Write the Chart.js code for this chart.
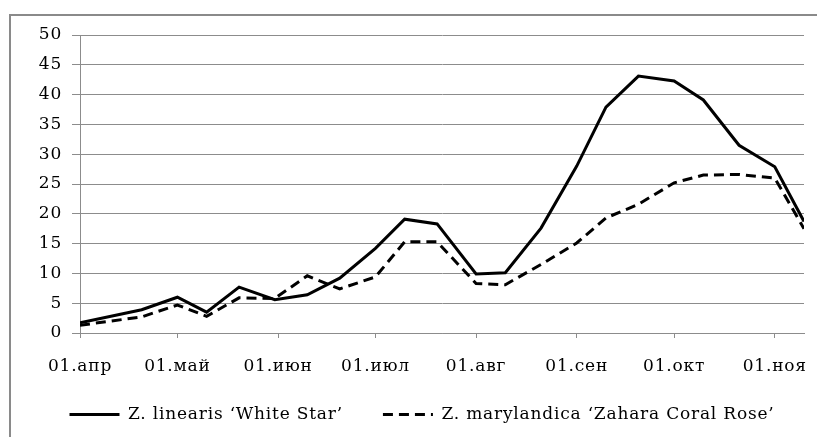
<!DOCTYPE html>
<html>
<head>
<meta charset="utf-8">
<script src="https://cdn.jsdelivr.net/npm/chart.js@4"></script>
<style>
  html, body { margin: 0; padding: 0; background: #fff; overflow: hidden; }
  #frame { position: absolute; left: 9px; top: 14px; width: 900px; height: 500px; border: 2px solid #8a8a8a; box-sizing: border-box; }
  #wrap { position: absolute; left: 0; top: 0; width: 817px; height: 437px; }
</style>
</head>
<body>
<div id="frame"></div>
<div id="wrap"><canvas id="c" width="817" height="437"></canvas></div>
<script>
// ---- data ----
const dates = ['04-01','04-20','05-01','05-10','05-20','05-31','06-10','06-20','07-01','07-10','07-20',
               '08-01','08-10','08-21','09-01','09-10','09-20','10-01','10-10','10-21','11-01','11-10'];
const whiteStar = [1.7, 3.9, 6.0, 3.5, 7.7, 5.6, 6.4, 9.2, 14.2, 19.1, 18.3,
                   9.9, 10.1, 17.6, 28.0, 37.9, 43.1, 42.3, 39.1, 31.5, 27.9, 18.7];
const coralRose = [1.3, 2.7, 4.7, 2.8, 5.9, 5.8, 9.6, 7.4, 9.4, 15.3, 15.3,
                   8.3, 8.1, 11.5, 15.1, 19.3, 21.6, 25.2, 26.5, 26.6, 26.0, 17.5];
const tickDates = ['04-01','05-01','06-01','07-01','08-01','09-01','10-01','11-01'];
const tickLabels = ['01.апр','01.май','01.июн','01.июл','01.авг','01.сен','01.окт','01.ноя'];
const seriesNames = ['Z. linearis \u2018White Star\u2019', 'Z. marylandica \u2018Zahara Coral Rose\u2019'];
const axisEnd = '11-10';

function dayOffset(md) {
  const [m, d] = md.split('-').map(Number);
  return Math.round((Date.UTC(2021, m - 1, d) - Date.UTC(2021, 3, 1)) / 86400000);
}
const tickValues = tickDates.map(dayOffset);

const FONT = { family: "'DejaVu Serif'", size: 17 };
const GRID = '#8c8c8c';
const LS = '0.8px';

const spacing = {
  id: 'spacing',
  beforeUpdate(chart) { chart.ctx.letterSpacing = LS; },
  beforeLayout(chart) { chart.ctx.letterSpacing = LS; },
  afterLayout(chart) {
    const lg = chart.legend;
    if (lg) { lg.top -= 9; lg.bottom -= 9; lg.left += 20; lg.right += 20; }
  },
  beforeDraw(chart) { chart.ctx.letterSpacing = LS; }
};

new Chart(document.getElementById('c'), {
  type: 'line',
  data: {
    datasets: [
      { label: seriesNames[0], data: dates.map((d, i) => ({ x: dayOffset(d), y: whiteStar[i] })),
        borderColor: '#000', backgroundColor: '#000', borderWidth: 3, pointRadius: 0, tension: 0 },
      { label: seriesNames[1], data: dates.map((d, i) => ({ x: dayOffset(d), y: coralRose[i] })),
        borderColor: '#000', backgroundColor: '#000', borderWidth: 3, borderDash: [10, 6], pointRadius: 0, tension: 0 }
    ]
  },
  options: {
    responsive: false,
    animation: false,
    devicePixelRatio: 1,
    layout: { padding: { left: 0, right: 13, top: 35, bottom: 0 } },
    plugins: {
      tooltip: { enabled: false },
      legend: {
        position: 'bottom',
        maxHeight: 62,
        labels: {
          font: FONT, color: '#000', usePointStyle: true, pointStyle: 'line',
          pointStyleWidth: 50, padding: 40,
          generateLabels(chart) {
            return chart.data.datasets.map((ds, i) => ({
              text: ds.label, strokeStyle: '#000', fillStyle: '#000', lineWidth: 3,
              lineDash: ds.borderDash || [], pointStyle: 'line', datasetIndex: i, fontColor: '#000'
            }));
          }
        }
      }
    },
    scales: {
      x: {
        type: 'linear', min: 0, max: dayOffset(axisEnd),
        afterBuildTicks(scale) { scale.ticks = tickValues.map(v => ({ value: v })); },
        afterFit(scale) { scale.height = 42; scale.paddingLeft = 0; scale.paddingRight = 0; },
        ticks: {
          autoSkip: false, maxRotation: 0, font: FONT, color: '#000', padding: 18,
          callback(value) { const k = tickValues.indexOf(value); return k >= 0 ? tickLabels[k] : ''; }
        },
        grid: { drawOnChartArea: false, drawTicks: true, tickLength: 5, color: GRID },
        border: { display: true, color: GRID, width: 1 }
      },
      y: {
        min: 0, max: 50,
        afterFit(scale) { scale.width = 80; scale.paddingTop = 0; scale.paddingBottom = 0; },
        ticks: { stepSize: 5, font: FONT, color: '#000', padding: 10 },
        grid: { color: GRID, tickLength: 8, lineWidth: 1 },
        border: { display: true, color: GRID, width: 1 }
      }
    }
  },
  plugins: [spacing]
});
</script>
</body>
</html>
